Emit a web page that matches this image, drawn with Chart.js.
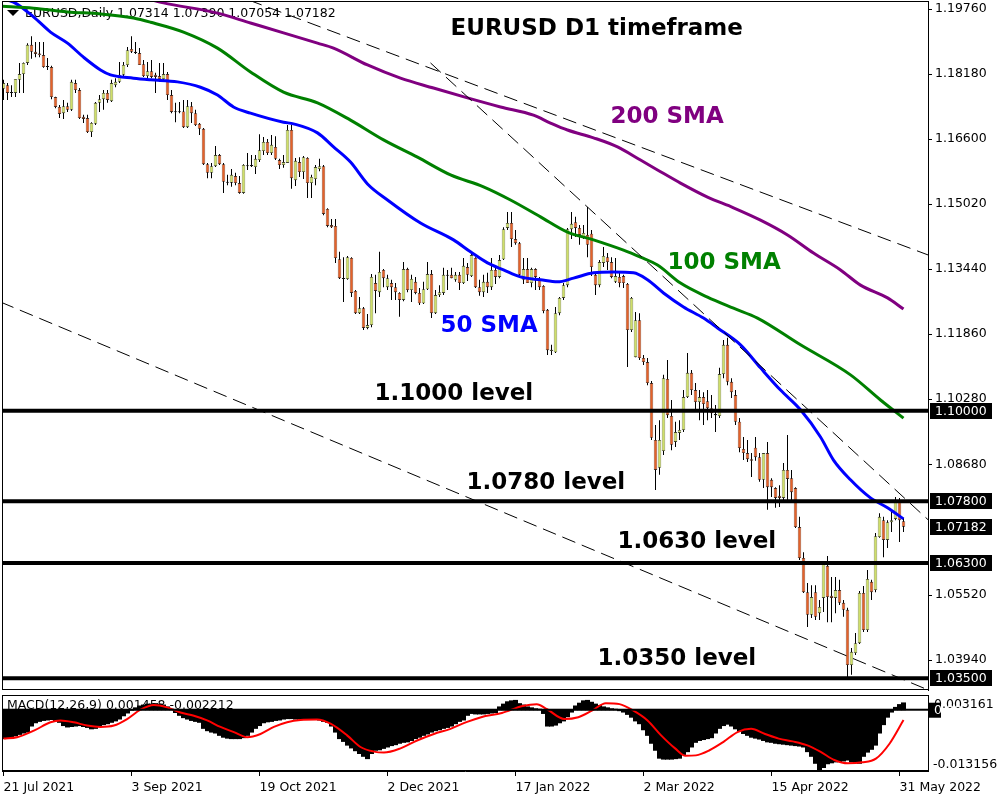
<!DOCTYPE html>
<html>
<head>
<meta charset="utf-8">
<title>EURUSD D1</title>
<script src="https://cdn.jsdelivr.net/npm/chart.js"></script>
<style>
  body { margin: 0; background: #fff; }
  #main { position: absolute; left: 0; top: 0; }
  #macd { position: absolute; left: 0; top: 692px; }
</style>
</head>
<body>
<canvas id="main" width="1000" height="692"></canvas>
<canvas id="macd" width="1000" height="108"></canvas>
<script>
// EURUSD daily candles, bar 0 = 21 Jul 2021, last bar = 1 Jun 2022 (partial)
const opens = [
  1.1782,1.1791,1.1772,1.1772,1.1804,1.1818,1.1845,1.1889,1.1872,1.1868,
  1.1864,1.1836,1.1835,1.1762,1.1738,1.1723,1.1740,1.1731,1.1796,1.1779,
  1.1714,1.1711,1.1677,1.1697,1.1748,1.1757,1.1772,1.1752,1.1791,1.1799,
  1.1816,1.1840,1.1879,1.1872,1.1869,1.1842,1.1813,1.1825,1.1816,1.1813,
  1.1806,1.1818,1.1767,1.1726,1.1725,1.1727,1.1689,1.1740,1.1723,1.1697,
  1.1685,1.1599,1.1578,1.1594,1.1621,1.1599,1.1556,1.1554,1.1570,1.1553,
  1.1529,1.1596,1.1594,1.1592,1.1609,1.1631,1.1653,1.1626,1.1641,1.1609,
  1.1597,1.1602,1.1682,1.1560,1.1604,1.1580,1.1614,1.1553,1.1563,1.1587,
  1.1594,1.1490,1.1451,1.1449,1.1368,1.1322,1.1320,1.1371,1.1291,1.1237,
  1.1249,1.1201,1.1208,1.1310,1.1288,1.1342,1.1300,1.1310,1.1300,1.1286,
  1.1269,1.1344,1.1293,1.1313,1.1286,1.1261,1.1295,1.1332,1.1237,1.1281,
  1.1286,1.1330,1.1330,1.1318,1.1330,1.1310,1.1349,1.1327,1.1371,1.1300,
  1.1288,1.1313,1.1300,1.1342,1.1325,1.1368,1.1444,1.1456,1.1417,1.1407,
  1.1318,1.1344,1.1310,1.1344,1.1318,1.1303,1.1245,1.1145,1.1142,1.1237,
  1.1274,1.1305,1.1441,1.1458,1.1444,1.1422,1.1427,1.1430,1.1330,1.1305,
  1.1359,1.1373,1.1361,1.1313,1.1325,1.1327,1.1308,1.1196,1.1130,1.1220,
  1.1128,1.1118,1.1067,1.0929,1.0861,1.0902,1.1077,1.0987,1.0924,1.0946,
  1.0953,1.1033,1.1092,1.1050,1.1021,1.1033,1.1023,1.1006,1.0992,1.0987,
  1.1089,1.1160,1.1070,1.1038,1.0973,1.0907,1.0897,1.0882,1.0910,1.0887,
  1.0832,1.0897,1.0832,1.0812,1.0793,1.0788,1.0856,1.0836,1.0812,1.0717,
  1.0642,1.0559,1.0504,1.0559,1.0508,1.0545,1.0623,1.0550,1.0545,1.0564,
  1.0533,1.0516,1.0382,1.0411,1.0435,1.0557,1.0467,1.0584,1.0564,1.0693,
  1.0734,1.0686,1.0729,1.0737,1.0783,1.07314
];
const highs = [
  1.1804,1.1796,1.1791,1.1806,1.1845,1.1846,1.1893,1.1910,1.1896,1.1896,
  1.1896,1.1857,1.1838,1.1763,1.1743,1.1755,1.1748,1.1804,1.1804,1.1784,
  1.1719,1.1719,1.1701,1.1750,1.1767,1.1779,1.1779,1.1804,1.1808,1.1847,
  1.1847,1.1884,1.1910,1.1896,1.1881,1.1852,1.1847,1.1852,1.1821,1.1845,
  1.1845,1.1823,1.1779,1.1748,1.1750,1.1755,1.1755,1.1750,1.1731,1.1699,
  1.1687,1.1602,1.1602,1.1643,1.1624,1.1602,1.1573,1.1587,1.1578,1.1570,
  1.1599,1.1626,1.1621,1.1621,1.1672,1.1665,1.1660,1.1670,1.1667,1.1612,
  1.1621,1.1694,1.1694,1.1614,1.1616,1.1619,1.1616,1.1573,1.1597,1.1612,
  1.1597,1.1492,1.1466,1.1466,1.1386,1.1373,1.1376,1.1373,1.1293,1.1276,
  1.1252,1.1235,1.1332,1.1330,1.1386,1.1344,1.1330,1.1318,1.1310,1.1288,
  1.1361,1.1347,1.1330,1.1325,1.1298,1.1313,1.1361,1.1342,1.1293,1.1305,
  1.1347,1.1342,1.1347,1.1337,1.1337,1.1371,1.1359,1.1383,1.1373,1.1318,
  1.1330,1.1335,1.1371,1.1354,1.1378,1.1446,1.1483,1.1483,1.1439,1.1410,
  1.1371,1.1371,1.1347,1.1346,1.1325,1.1305,1.1247,1.1160,1.1252,1.1276,
  1.1310,1.1444,1.1483,1.1471,1.1451,1.1451,1.1495,1.1439,1.1335,1.1366,
  1.1398,1.1383,1.1373,1.1371,1.1335,1.1330,1.1310,1.1276,1.1240,1.1237,
  1.1135,1.1128,1.1072,1.0965,1.0977,1.1087,1.1123,1.1026,1.0973,1.0977,
  1.1050,1.1140,1.1099,1.1067,1.1050,1.1045,1.1050,1.1038,1.1014,1.1104,
  1.1172,1.1177,1.1079,1.1050,1.0982,1.0936,1.0929,1.0897,1.0936,1.0897,
  1.0897,1.0924,1.0836,1.0814,1.0819,1.0873,1.0941,1.0856,1.0814,1.0742,
  1.0656,1.0581,1.0576,1.0576,1.0540,1.0630,1.0647,1.0596,1.0596,1.0589,
  1.0540,1.0521,1.0423,1.0460,1.0562,1.0574,1.0613,1.0589,1.0703,1.0751,
  1.0742,1.0734,1.0759,1.0790,1.0788,1.07390
];
const lows = [
  1.1755,1.1755,1.1762,1.1762,1.1772,1.1772,1.1840,1.1855,1.1859,1.1859,
  1.1833,1.1828,1.1757,1.1735,1.1711,1.1709,1.1726,1.1728,1.1772,1.1709,
  1.1699,1.1675,1.1665,1.1694,1.1726,1.1731,1.1748,1.1750,1.1786,1.1796,
  1.1811,1.1835,1.1869,1.1867,1.1840,1.1811,1.1806,1.1808,1.1772,1.1799,
  1.1799,1.1755,1.1723,1.1701,1.1723,1.1687,1.1687,1.1699,1.1692,1.1670,
  1.1597,1.1565,1.1565,1.1592,1.1597,1.1529,1.1548,1.1544,1.1548,1.1527,
  1.1527,1.1585,1.1592,1.1575,1.1604,1.1621,1.1621,1.1621,1.1609,1.1587,
  1.1590,1.1602,1.1539,1.1546,1.1568,1.1563,1.1517,1.1517,1.1548,1.1582,
  1.1475,1.1446,1.1444,1.1359,1.1320,1.1264,1.1318,1.1276,1.1235,1.1235,
  1.1196,1.1198,1.1203,1.1237,1.1276,1.1300,1.1293,1.1269,1.1269,1.1228,
  1.1266,1.1288,1.1264,1.1283,1.1257,1.1259,1.1293,1.1225,1.1235,1.1276,
  1.1281,1.1293,1.1322,1.1313,1.1293,1.1308,1.1315,1.1325,1.1298,1.1279,
  1.1276,1.1286,1.1293,1.1308,1.1322,1.1366,1.1439,1.1398,1.1403,1.1327,
  1.1308,1.1310,1.1300,1.1293,1.1293,1.1237,1.1135,1.1135,1.1140,1.1232,
  1.1269,1.1300,1.1417,1.1422,1.1403,1.1417,1.1373,1.1327,1.1281,1.1300,
  1.1349,1.1342,1.1322,1.1310,1.1300,1.1298,1.1106,1.1191,1.1130,1.1123,
  1.1111,1.1062,1.0929,1.0807,1.0844,1.0892,1.0982,1.0904,1.0912,1.0929,
  1.0948,1.1031,1.1038,1.1002,1.0977,1.0965,1.0977,1.0982,1.0948,1.0982,
  1.1079,1.1062,1.1031,1.0965,1.0899,1.0880,1.0875,1.0839,1.0878,1.0827,
  1.0812,1.0759,1.0790,1.0764,1.0766,1.0783,1.0783,1.0783,1.0715,1.0637,
  1.0557,1.0474,1.0496,1.0491,1.0491,1.0511,1.0486,1.0486,1.0508,1.0528,
  1.0499,1.0350,1.0358,1.0406,1.0433,1.0462,1.0462,1.0540,1.0559,1.0691,
  1.0644,1.0666,1.0705,1.0734,1.0681,1.07054
];
const closes = [
  1.1796,1.1772,1.1773,1.1806,1.1818,1.1845,1.1889,1.1872,1.1867,1.1864,
  1.1835,1.1835,1.1762,1.1738,1.1721,1.1740,1.1731,1.1799,1.1779,1.1711,
  1.1709,1.1677,1.1699,1.1748,1.1757,1.1772,1.1755,1.1796,1.1799,1.1816,
  1.1840,1.1876,1.1872,1.1869,1.1840,1.1813,1.1825,1.1811,1.1811,1.1806,
  1.1818,1.1767,1.1726,1.1725,1.1727,1.1689,1.1740,1.1723,1.1694,1.1685,
  1.1599,1.1578,1.1594,1.1621,1.1599,1.1556,1.1554,1.1573,1.1553,1.1529,
  1.1597,1.1594,1.1597,1.1612,1.1633,1.1653,1.1626,1.1646,1.1612,1.1597,
  1.1604,1.1682,1.1565,1.1607,1.1580,1.1616,1.1553,1.1568,1.1592,1.1594,
  1.1478,1.1449,1.1446,1.1371,1.1322,1.1320,1.1373,1.1286,1.1237,1.1249,
  1.1201,1.1208,1.1325,1.1291,1.1337,1.1322,1.1322,1.1300,1.1288,1.1269,
  1.1344,1.1293,1.1320,1.1286,1.1261,1.1295,1.1332,1.1237,1.1281,1.1288,
  1.1330,1.1328,1.1322,1.1330,1.1310,1.1352,1.1330,1.1378,1.1300,1.1288,
  1.1313,1.1300,1.1342,1.1325,1.1366,1.1441,1.1456,1.1417,1.1407,1.1330,
  1.1344,1.1310,1.1344,1.1325,1.1300,1.1242,1.1147,1.1148,1.1237,1.1274,
  1.1305,1.1441,1.1454,1.1444,1.1427,1.1432,1.1403,1.1349,1.1305,1.1361,
  1.1376,1.1361,1.1325,1.1327,1.1310,1.1310,1.1196,1.1274,1.1220,1.1128,
  1.1118,1.1067,1.0934,1.0856,1.0929,1.1079,1.0989,1.0917,1.0948,1.0953,
  1.1033,1.1092,1.1050,1.1021,1.1033,1.1016,1.1006,1.0994,1.0989,1.1089,
  1.1160,1.1070,1.1045,1.0973,1.0909,1.0897,1.0882,1.0878,1.0887,1.0832,
  1.0897,1.0814,1.0814,1.0788,1.0788,1.0856,1.0834,1.0802,1.0717,1.0642,
  1.0559,1.0504,1.0547,1.0499,1.0523,1.0627,1.0547,1.0545,1.0564,1.0533,
  1.0516,1.0382,1.0414,1.0435,1.0557,1.0467,1.0591,1.0559,1.0695,1.0742,
  1.0686,1.0729,1.0734,1.0778,1.0734,1.07182
];

// moving averages as [bar, price]
const sma50 = [
  [-0.75,1.2000],[2.5,1.1993],[7.5,1.1957],[11.75,1.1920],[16,1.1893],[20,1.1859],[24.25,1.1828],
  [26.75,1.1816],[32.5,1.1808],[36.75,1.1804],[43.5,1.1799],[49.25,1.1786],[53.5,1.1767],[57.5,1.1738],
  [61.75,1.1723],[70,1.1701],[72.5,1.1697],[78.5,1.1675],[82.5,1.1641],[86.75,1.1604],[91,1.1551],
  [96,1.1512],[104.25,1.1456],[112.5,1.1415],[116.75,1.1386],[121,1.1359],[125,1.1342],[129.25,1.1325],
  [134.25,1.1318],[138.5,1.1313],[142.5,1.1322],[147.5,1.1335],[152.5,1.1337],[157.5,1.1335],[161,1.1318],
  [165,1.1286],[170,1.1252],[175,1.1225],[178.5,1.1201],[184.25,1.1160],[189.25,1.1104],[194.25,1.1050],
  [199.25,1.1002],[204.25,1.0936],[207.5,1.0880],[211.75,1.0832],[216.75,1.0788],[221,1.0764],[225,1.0737]
];
const sma100 = [
  [-0.75,1.1983],[7.5,1.1978],[16,1.1969],[24.25,1.1964],[32.5,1.1954],[36.75,1.1944],[45,1.1920],
  [53.5,1.1881],[61.75,1.1823],[70,1.1774],[78.5,1.1748],[86.75,1.1706],[95,1.1658],[103.5,1.1616],
  [111.75,1.1573],[120,1.1544],[126.75,1.1512],[134.25,1.1471],[141,1.1434],[147.5,1.1415],[155,1.1390],
  [159.25,1.1373],[163.5,1.1354],[169.25,1.1310],[176,1.1276],[182.5,1.1249],[188.5,1.1225],[199.25,1.1160],
  [211.75,1.1087],[219.25,1.1026],[225,1.0982]
];
const sma200 = [
  [34.25,1.2005],[40,1.1991],[53.5,1.1966],[61.75,1.1942],[70,1.1918],[78.5,1.1893],[82.5,1.1881],
  [91,1.1840],[99.25,1.1808],[107.5,1.1784],[116,1.1760],[124.25,1.1738],[132.5,1.1718],[136.75,1.1699],
  [141,1.1682],[147.5,1.1663],[153.5,1.1641],[159.25,1.1609],[163.5,1.1585],[169.25,1.1553],[176,1.1519],
  [182.5,1.1493],[189.25,1.1463],[196,1.1427],[202.5,1.1383],[209.25,1.1342],[214.25,1.1305],[221,1.1274],
  [225,1.1247]
];

const levels = [1.1000, 1.0780, 1.0630, 1.0350];
const trendLines = [
  [[61.25,1.1998],[231.25,1.1378]],
  [[106.75,1.1845],[231.25,1.0734]],
  [[-0.75,1.1264],[231.25,1.0321]]
];

const priceTicks = [1.19760,1.18180,1.16600,1.15020,1.13440,1.11860,1.10280,1.08680,1.05520,1.03940];
const dateTickBars = [0, 32, 64, 96, 128, 160, 192, 224];
const dateLabels = ['21 Jul 2021','3 Sep 2021','19 Oct 2021','2 Dec 2021','17 Jan 2022','2 Mar 2022','15 Apr 2022','31 May 2022'];

// MACD(12,26,9): main line per bar (histogram) and signal line points
const macdHist = [
  -0.0062,-0.0060,-0.0058,-0.0056,-0.0053,-0.0050,-0.0048,-0.0035,-0.0028,-0.0025,
  -0.0023,-0.0022,-0.0021,-0.0023,-0.0027,-0.0034,-0.0037,-0.0036,-0.0035,-0.0034,
  -0.0036,-0.0038,-0.0041,-0.0040,-0.0034,-0.0032,-0.0030,-0.0027,-0.0024,-0.0020,
  -0.0013,-0.0007,-0.0001,0.0004,0.0008,0.0010,0.0012,0.0012,0.0013,0.0012,
  0.0010,0.0006,0.0001,-0.0006,-0.0012,-0.0017,-0.0020,-0.0023,-0.0025,-0.0027,
  -0.0040,-0.0045,-0.0048,-0.0050,-0.0055,-0.0059,-0.0061,-0.0062,-0.0062,-0.0062,
  -0.0060,-0.0055,-0.0048,-0.0040,-0.0034,-0.0028,-0.0026,-0.0025,-0.0023,-0.0022,
  -0.0020,-0.0019,-0.0019,-0.0020,-0.0020,-0.0020,-0.0021,-0.0021,-0.0021,-0.0022,
  -0.0025,-0.0027,-0.0035,-0.0048,-0.0062,-0.0068,-0.0076,-0.0082,-0.0088,-0.0094,
  -0.0100,-0.0105,-0.0094,-0.0087,-0.0086,-0.0083,-0.0080,-0.0077,-0.0075,-0.0072,
  -0.0070,-0.0069,-0.0066,-0.0062,-0.0059,-0.0055,-0.0052,-0.0048,-0.0045,-0.0043,
  -0.0040,-0.0038,-0.0035,-0.0030,-0.0025,-0.0022,-0.0012,-0.0008,-0.0009,-0.0009,
  -0.0009,-0.0008,-0.0007,-0.0006,0.0006,0.0012,0.0017,0.0019,0.0020,0.0013,
  0.0010,0.0006,0.0004,0.0002,0.0001,-0.0008,-0.0035,-0.0035,-0.0033,-0.0028,
  -0.0024,-0.0015,-0.0005,0.0008,0.0014,0.0019,0.0020,0.0016,0.0012,0.0009,
  0.0006,0.0004,0.0002,0.0001,-0.0002,-0.0005,-0.0010,-0.0016,-0.0024,-0.0030,
  -0.0043,-0.0055,-0.0072,-0.0087,-0.0104,-0.0106,-0.0106,-0.0106,-0.0105,-0.0104,
  -0.0096,-0.0090,-0.0080,-0.0070,-0.0066,-0.0064,-0.0062,-0.0060,-0.0050,-0.0040,
  -0.0034,-0.0031,-0.0035,-0.0041,-0.0046,-0.0051,-0.0055,-0.0059,-0.0061,-0.0063,
  -0.0066,-0.0069,-0.0070,-0.0072,-0.0073,-0.0074,-0.0075,-0.0076,-0.0077,-0.0078,
  -0.0080,-0.0090,-0.0100,-0.0115,-0.0132,-0.0124,-0.0116,-0.0114,-0.0112,-0.0111,
  -0.0110,-0.0108,-0.0112,-0.0114,-0.0115,-0.0100,-0.0091,-0.0085,-0.0076,-0.0050,
  -0.0032,-0.0016,-0.0005,0.0005,0.0011,0.001458
];
const macdSignal = [
  [0,-0.0062],[3.4,-0.0059],[7.6,-0.0045],[11.75,-0.0027],[14.25,-0.0023],[17.6,-0.0027],[20.9,-0.0034],
  [24.25,-0.0037],[27.6,-0.0034],[30.9,-0.0020],[34.25,0],[37.6,0.0010],[40.9,0.0005],[44.25,-0.0006],
  [47.6,-0.0013],[50.9,-0.0023],[54.25,-0.0037],[57.6,-0.0048],[60.9,-0.0059],[64.25,-0.0052],[67.6,-0.0037],
  [70.9,-0.0027],[74.25,-0.0022],[78.4,-0.0021],[81.75,-0.0030],[85.9,-0.0055],[89.25,-0.0080],[92.6,-0.0090],
  [95.1,-0.0092],[99.25,-0.0083],[103.4,-0.0066],[107.6,-0.0052],[111.75,-0.0041],[115.9,-0.0026],[119.4,-0.0016],
  [124.6,-0.0007],[129.8,0.0008],[133.3,0.0012],[135.9,0.0001],[140.2,-0.0020],[143.7,-0.0016],[147.1,-0.0002],
  [150.6,0.0014],[154,0.0012],[157.5,-0.0002],[161,-0.0023],[164.4,-0.0055],[167.9,-0.0083],[170.5,-0.0099],
  [173.1,-0.0098],[176.5,-0.0087],[180,-0.0069],[183.5,-0.0048],[186.9,-0.0041],[190.4,-0.0052],[193.8,-0.0062],
  [197.3,-0.0068],[200.8,-0.0076],[204.2,-0.0090],[207.7,-0.0108],[211.1,-0.0115],[214.6,-0.0113],[218.1,-0.0105],
  [221.5,-0.0073],[225,-0.002212]
];
const macdMax = 0.003161;
const macdMin = -0.013156;

// ---- layout / style ----
const X_MIN = -0.375, X_MAX = 231.125;
const PRICE_MAX = 1.19955, PRICE_MIN = 1.03212;
const BULL = '#cfdf6a', BEAR = '#e4622a';
const FONT = '"DejaVu Sans"';
Chart.defaults.font.family = FONT;
Chart.defaults.color = '#000';

const notes = [
  { text: 'EURUSD D1 timeframe', bar: 111.75, price: 1.1928, color: '#000' },
  { text: '200 SMA', bar: 151.75, price: 1.1714, color: '#800080' },
  { text: '100 SMA', bar: 166, price: 1.1359, color: '#008000' },
  { text: '50 SMA', bar: 109.25, price: 1.1206, color: '#0000ff' },
  { text: '1.1000 level', bar: 92.75, price: 1.1040, color: '#000' },
  { text: '1.0780 level', bar: 115.75, price: 1.0824, color: '#000' },
  { text: '1.0630 level', bar: 153.5, price: 1.0681, color: '#000' },
  { text: '1.0350 level', bar: 148.5, price: 1.0397, color: '#000' }
];

const framePlugin = {
  id: 'frame',
  afterDraw(chart) {
    const a = chart.chartArea, ctx = chart.ctx;
    ctx.save();
    ctx.strokeStyle = '#000';
    ctx.lineWidth = 1;
    ctx.strokeRect(a.left + 0.5, a.top + 0.5, a.right - a.left, a.bottom - a.top - 1);
    ctx.restore();
  }
};

function axisBox(ctx, x, y, text) {
  ctx.fillStyle = '#000';
  ctx.fillRect(x, y - 8, 62, 16);
  ctx.fillStyle = '#fff';
  ctx.fillText(text, x + 5, y + 0.5);
}

const mainOverlay = {
  id: 'mainOverlay',
  beforeDatasetsDraw(chart) {
    const ctx = chart.ctx;
    const last = opens.length - 1;
    ctx.save();
    ctx.fillStyle = '#000';
    ctx.beginPath();
    ctx.moveTo(7, 10); ctx.lineTo(19, 10); ctx.lineTo(13, 16);
    ctx.closePath();
    ctx.fill();
    ctx.font = '12.5px ' + FONT;
    ctx.textBaseline = 'middle';
    const ohlc = [opens[last], highs[last], lows[last], closes[last]].map(v => v.toFixed(5));
    ctx.fillText('EURUSD,Daily ' + ohlc.join(' '), 25, 14);
    ctx.restore();
  },
  afterDatasetsDraw(chart) {
    const ctx = chart.ctx, xs = chart.scales.x, ys = chart.scales.y;
    ctx.save();
    ctx.font = 'bold 23px ' + FONT;
    ctx.textBaseline = 'middle';
    notes.forEach(n => {
      ctx.fillStyle = n.color;
      ctx.fillText(n.text, xs.getPixelForValue(n.bar), ys.getPixelForValue(n.price));
    });
    ctx.font = '12.5px ' + FONT;
    const boxX = chart.chartArea.right + 2;
    levels.concat([closes[closes.length - 1]]).forEach(v => {
      axisBox(ctx, boxX, Math.round(ys.getPixelForValue(v)), v.toFixed(5));
    });
    ctx.restore();
  }
};

const bars = opens.map((o, i) => i);

function lineSet(points, color, width, order) {
  return {
    type: 'line',
    data: points.map(p => ({ x: p[0], y: p[1] })),
    borderColor: color,
    borderWidth: width,
    pointRadius: 0,
    cubicInterpolationMode: 'monotone',
    order: order
  };
}

const mainSets = [
  {
    type: 'bar',
    data: bars.map(i => ({ x: i, y: [lows[i], highs[i]] })),
    backgroundColor: '#000',
    barThickness: 1,
    inflateAmount: 0,
    grouped: false,
    order: 10
  },
  {
    type: 'bar',
    data: bars.map(i => ({ x: i, y: [opens[i], closes[i]] })),
    backgroundColor: bars.map(i => closes[i] >= opens[i] ? BULL : BEAR),
    borderColor: '#111',
    borderWidth: 0.6,
    borderSkipped: false,
    barThickness: 3.4,
    minBarLength: 1,
    inflateAmount: 0,
    grouped: false,
    order: 9
  },
  lineSet(sma200, '#800080', 3, 5),
  lineSet(sma100, '#008000', 3, 5),
  lineSet(sma50, '#0000ff', 3, 5)
];
trendLines.forEach(t => {
  const s = lineSet(t, '#000', 1, 3);
  s.borderDash = [14, 7];
  mainSets.push(s);
});
levels.forEach(v => {
  mainSets.push(lineSet([[X_MIN - 1, v], [X_MAX + 1, v]], '#000', 4, 2));
});

new Chart(document.getElementById('main'), {
  type: 'bar',
  data: { datasets: mainSets },
  options: {
    responsive: false,
    animation: false,
    events: [],
    layout: { padding: { left: 2, top: 1, right: 0, bottom: 2 } },
    plugins: { legend: { display: false }, tooltip: { enabled: false } },
    scales: {
      x: { type: 'linear', min: X_MIN, max: X_MAX, offset: false, display: false },
      y: {
        type: 'linear',
        position: 'right',
        min: PRICE_MIN,
        max: PRICE_MAX,
        afterBuildTicks: s => { s.ticks = priceTicks.map(v => ({ value: v })); },
        afterFit: s => { s.width = 72; s.paddingTop = 0; s.paddingBottom = 0; },
        ticks: {
          callback: v => v.toFixed(5),
          autoSkip: false,
          padding: 3,
          color: '#000',
          font: { size: 12.5 }
        },
        grid: { drawOnChartArea: false, tickLength: 4, color: '#000' },
        border: { display: true, color: '#000' }
      }
    }
  },
  plugins: [mainOverlay, framePlugin]
});

// ---- MACD panel ----
const macdOverlay = {
  id: 'macdOverlay',
  beforeDatasetsDraw(chart) {
    const ctx = chart.ctx, a = chart.chartArea;
    const sig = macdSignal[macdSignal.length - 1][1];
    ctx.save();
    ctx.fillStyle = '#000';
    ctx.font = '12.5px ' + FONT;
    ctx.textBaseline = 'middle';
    ctx.fillText('MACD(12,26,9) ' + macdHist[macdHist.length - 1].toFixed(6) + ' ' + sig.toFixed(6), a.left + 5, a.top + 11);
    ctx.restore();
  },
  afterDatasetsDraw(chart) {
    const ctx = chart.ctx, a = chart.chartArea, ys = chart.scales.y;
    const y0 = ys.getPixelForValue(0);
    ctx.save();
    ctx.fillStyle = '#000';
    ctx.fillRect(a.left, y0 - 1, a.right - a.left + 3, 2);
    ctx.font = '12.5px ' + FONT;
    ctx.textBaseline = 'middle';
    ctx.fillRect(a.right + 1, y0 - 7, 12, 15);
    ctx.fillText(macdMax.toFixed(6), a.right + 6, a.top + 10);
    ctx.fillText(macdMin.toFixed(6), a.right + 5, a.bottom - 6);
    ctx.fillStyle = '#fff';
    ctx.fillText('0.00', a.right + 6, y0 + 1);
    ctx.restore();
  }
};

new Chart(document.getElementById('macd'), {
  type: 'bar',
  data: {
    datasets: [
      {
        type: 'bar',
        data: macdHist.map((v, i) => ({ x: i, y: v })),
        backgroundColor: '#000',
        barThickness: 4,
        inflateAmount: 0.5,
        grouped: false,
        order: 2
      },
      lineSet(macdSignal, '#ff0000', 2, 1)
    ]
  },
  options: {
    responsive: false,
    animation: false,
    events: [],
    layout: { padding: { left: 2, top: 3, right: 0, bottom: 0 } },
    plugins: { legend: { display: false }, tooltip: { enabled: false } },
    scales: {
      x: {
        type: 'linear',
        position: 'bottom',
        min: X_MIN,
        max: X_MAX,
        offset: false,
        afterBuildTicks: s => { s.ticks = dateTickBars.map(v => ({ value: v })); },
        afterFit: s => { s.height = 29; s.paddingLeft = 0; s.paddingRight = 0; },
        ticks: {
          callback: (v, i) => dateLabels[i],
          align: 'start',
          maxRotation: 0,
          autoSkip: false,
          padding: 4,
          color: '#000',
          font: { size: 12.5 }
        },
        grid: { drawOnChartArea: false, tickLength: 5, color: '#000', offset: false },
        border: { display: true, color: '#000' }
      },
      y: {
        type: 'linear',
        position: 'right',
        min: macdMin,
        max: macdMax,
        ticks: { display: false },
        grid: { display: false },
        border: { display: true, color: '#000' },
        afterFit: s => { s.width = 72; s.paddingTop = 0; s.paddingBottom = 0; }
      }
    }
  },
  plugins: [macdOverlay, framePlugin]
});
</script>
</body>
</html>
